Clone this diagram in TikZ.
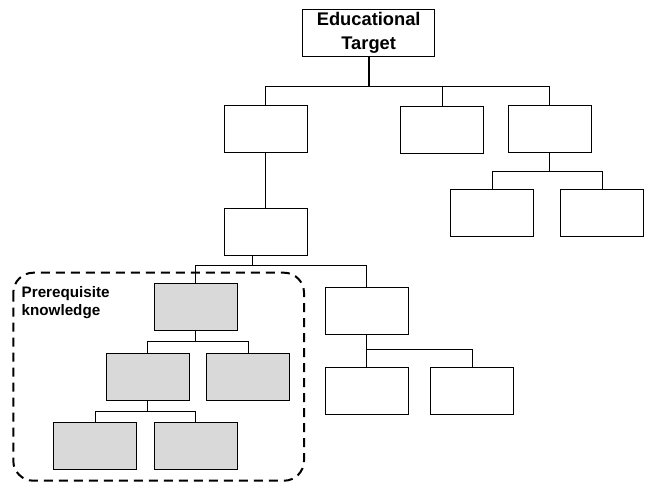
\documentclass[tikz,border=0pt]{standalone}
\usepackage{fontspec}
\setmainfont{Liberation Sans}
\begin{document}
\begin{tikzpicture}[x=1pt,y=-1pt,
  box/.style={draw=black,line width=1.2pt,fill=white,minimum width=83pt,minimum height=47pt,inner sep=0pt},
  gbox/.style={box,fill=black!15},
  conn/.style={draw=black,line width=1pt},
  region/.style={draw=black,line width=2pt,dash pattern=on 9pt off 6pt,rounded corners=20pt}]
\useasboundingbox (0,0) rectangle (648,483);
% nodes
\node[box,minimum width=132pt,align=center,font=\bfseries\fontsize{18.3}{23.5}\selectfont] (T) at (368.7,33) {Educational\\Target};
\node[box] (A) at (265.7,128.7) {};
\node[box] (B) at (442.2,129.8) {};
\node[box] (C) at (550,129) {};
\node[box] (C1) at (492.3,213) {};
\node[box] (C2) at (602.3,213) {};
\node[box] (D) at (265.7,232.3) {};
\node[box] (E) at (366.7,311.2) {};
\node[box] (E1) at (366.7,391.3) {};
\node[box] (E2) at (472,391.3) {};
\node[gbox] (G1) at (195.7,307) {};
\node[gbox] (G2) at (147.7,376.7) {};
\node[gbox] (G3) at (248.3,376.7) {};
\node[gbox] (G4) at (95,446.3) {};
\node[gbox] (G5) at (195.7,446.3) {};
% bus coordinates
\coordinate (busT) at (369.3,86);
\coordinate (busC) at (549.3,171.3);
\coordinate (busD) at (252.3,265.3);
\coordinate (busE) at (366.7,349.7);
\coordinate (busG1) at (195.7,341.7);
\coordinate (busG2) at (147.7,411);
% connectors
\draw[conn,line width=2pt] (T.south -| busT) -- (busT);
\draw[conn] (busT) -| (A.north);
\draw[conn] (busT) -| (C.north -| busC);
\draw[conn] (B.north) -- (B.north |- busT);
\draw[conn] (C.south -| busC) -- (busC);
\draw[conn] (busC) -| (C1.north);
\draw[conn] (busC) -| (C2.north);
\draw[conn] (A.south) -- (D.north);
\draw[conn] (D.south -| busD) -- (busD);
\draw[conn] (busD) -| (G1.north);
\draw[conn] (busD) -| (E.north);
\draw[conn] (E.south) -- (busE);
\draw[conn] (busE) -- (E1.north);
\draw[conn] (busE) -| (E2.north);
\draw[conn] (G1.south) -- (busG1);
\draw[conn] (busG1) -| (G2.north);
\draw[conn] (busG1) -| (G3.north);
\draw[conn] (G2.south) -- (busG2);
\draw[conn] (busG2) -| (G4.north);
\draw[conn] (busG2) -| (G5.north);
% prerequisite region
\coordinate (R1) at (13.3,272.7);
\coordinate (R2) at (304,480.7);
\draw[region] (R1) rectangle (R2);
\node[anchor=north west,inner sep=0pt,align=left,font=\bfseries\fontsize{15.2}{18.3}\selectfont] (P) at (21.5,286.3) {Prerequisite\\knowledge};
\end{tikzpicture}
\end{document}
